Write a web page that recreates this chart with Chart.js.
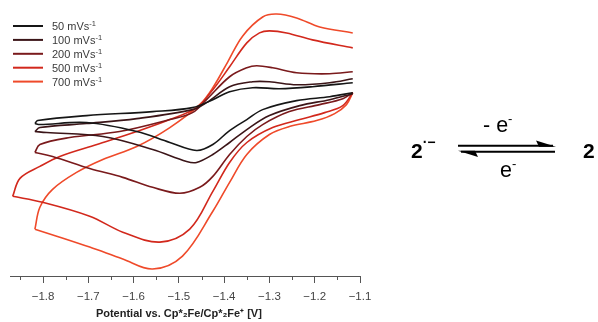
<!DOCTYPE html>
<html>
<head>
<meta charset="utf-8">
<script src="https://cdn.jsdelivr.net/npm/chart.js@4.4.1/dist/chart.umd.min.js"></script>
<style>
  html, body { margin: 0; padding: 0; background: #fff; }
  #wrap { position: relative; width: 598px; height: 322px; overflow: hidden; }
  #cv { position: absolute; left: 0; top: 0; }
  #overlay { position: absolute; left: 0; top: 0; font-family: "Liberation Sans", Arial, sans-serif; }
</style>
</head>
<body>
<div id="wrap">
  <canvas id="cv" width="380" height="322"></canvas>
  <svg id="overlay" width="598" height="322" xmlns="http://www.w3.org/2000/svg">
    <g id="legend"></g>
    <!-- reaction scheme -->
    <g fill="#000">
      <text x="411" y="158" font-size="21" font-weight="bold">2<tspan font-size="14" dy="-11">·−</tspan></text>
      <text x="583" y="158" font-size="21" font-weight="bold">2</text>
      <text x="483" y="132" font-size="21.5">- e<tspan font-size="13" dy="-9">-</tspan></text>
      <text x="500" y="177" font-size="21.5">e<tspan font-size="13" dy="-9">-</tspan></text>
      <line x1="458" y1="145.7" x2="553" y2="145.7" stroke="#000" stroke-width="2"/>
      <polygon points="556,146.7 536,140.5 539,146.7"/>
      <line x1="461" y1="151.7" x2="555" y2="151.7" stroke="#000" stroke-width="2"/>
      <polygon points="458,150.7 478,157 475,150.7"/>
    </g>
  </svg>
</div>
<script>
// scan rates and axis ticks
const scanRates = ["50", "100", "200", "500", "700"];
const majorTicks = [-1.8, -1.7, -1.6, -1.5, -1.4, -1.3, -1.2, -1.1];
const minorTicks = [-1.85, -1.75, -1.65, -1.55, -1.45, -1.35, -1.25, -1.15];

// [potential V, current (arb.)] - return sweep from right end to left vertex
const upper50 = [[-1.116, 6.7], [-1.205, 6.3], [-1.278, 6.1], [-1.337, 6.2], [-1.388, 5.8], [-1.425, 5.0],
  [-1.470, 4.2], [-1.558, 3.8], [-1.704, 3.4], [-1.812, 2.9], [-1.818, 2.6]];
const lower50 = [[-1.818, 2.6], [-1.807, 2.5], [-1.704, 2.7], [-1.593, 1.8], [-1.520, 0.7], [-1.461, -0.1],
  [-1.425, 0.5], [-1.388, 1.9], [-1.350, 3.0], [-1.315, 4.0], [-1.240, 4.9], [-1.167, 5.3], [-1.116, 5.7]];

const upper100 = [[-1.116, 7.1], [-1.167, 6.7], [-1.240, 6.5], [-1.300, 6.8], [-1.337, 6.8], [-1.388, 6.3],
  [-1.439, 4.7], [-1.470, 4.0], [-1.593, 3.1], [-1.704, 2.6], [-1.807, 2.2], [-1.818, 1.8]];
const lower100 = [[-1.818, 1.8], [-1.792, 1.7], [-1.668, 1.3], [-1.558, 0.0], [-1.483, -1.2], [-1.461, -1.3],
  [-1.425, -0.5], [-1.388, 0.7], [-1.350, 2.0], [-1.300, 3.4], [-1.233, 4.4], [-1.167, 5.0], [-1.116, 5.6]];

const upper200 = [[-1.116, 7.8], [-1.167, 7.6], [-1.240, 7.7], [-1.293, 8.2], [-1.328, 8.4], [-1.350, 8.2],
  [-1.388, 7.3], [-1.439, 5.0], [-1.470, 3.7], [-1.520, 3.0], [-1.631, 1.8], [-1.741, 1.2], [-1.807, 0.5], [-1.818, -0.3]];
const lower200 = [[-1.818, -0.3], [-1.779, -0.7], [-1.697, -1.9], [-1.624, -2.8], [-1.558, -3.8], [-1.498, -4.4],
  [-1.454, -3.8], [-1.425, -2.7], [-1.388, -0.5], [-1.350, 1.3], [-1.315, 2.5], [-1.256, 3.8], [-1.189, 4.5],
  [-1.138, 5.1], [-1.116, 5.7]];

const upper500 = [[-1.116, 10.2], [-1.205, 11.0], [-1.262, 11.7], [-1.300, 11.9], [-1.322, 11.7], [-1.350, 10.7],
  [-1.388, 8.3], [-1.425, 6.0], [-1.461, 4.2], [-1.520, 3.0], [-1.593, 1.8], [-1.681, 0.5], [-1.763, -0.7],
  [-1.807, -1.7], [-1.851, -2.9], [-1.867, -4.7]];
const lower500 = [[-1.867, -4.7], [-1.801, -5.3], [-1.697, -6.7], [-1.624, -8.3], [-1.542, -9.3], [-1.476, -8.0],
  [-1.425, -4.2], [-1.388, -1.3], [-1.350, 0.7], [-1.293, 2.2], [-1.233, 3.0], [-1.178, 3.7], [-1.138, 4.4], [-1.116, 5.7]];

const upper700 = [[-1.116, 11.7], [-1.189, 12.3], [-1.240, 13.2], [-1.284, 13.6], [-1.315, 13.3], [-1.359, 11.4],
  [-1.392, 8.8], [-1.425, 6.2], [-1.454, 4.5], [-1.520, 2.2], [-1.593, 0.3], [-1.668, -1.0], [-1.726, -2.3],
  [-1.779, -4.0], [-1.807, -5.8], [-1.818, -8.0]];
const lower700 = [[-1.818, -8.0], [-1.763, -8.8], [-1.697, -9.8], [-1.624, -11.0], [-1.558, -12.0], [-1.492, -10.7],
  [-1.425, -6.2], [-1.388, -3.3], [-1.350, -0.5], [-1.300, 1.5], [-1.256, 2.3], [-1.196, 2.9], [-1.156, 3.6],
  [-1.130, 4.5], [-1.116, 5.7]];

const branches = [[upper50, lower50], [upper100, lower100], [upper200, lower200], [upper500, lower500], [upper700, lower700]];
const lineColors = ["#161616", "#3b1518", "#7a1a1c", "#d2281c", "#ef4a2a"];

const font = "'Liberation Sans', Arial, sans-serif";

// build datasets, two branches per scan rate so the vertex stays sharp
const datasets = [];
branches.forEach((pair, i) => {
  pair.forEach((pts) => {
    datasets.push({
      label: scanRates[i] + " mVs-1",
      data: pts.map((p) => ({ x: p[0], y: p[1] })),
      showLine: true,
      borderColor: lineColors[i],
      borderWidth: 1.6,
      pointRadius: 0,
      tension: 0.35,
      fill: false,
    });
  });
});

// minor ticks under the axis
const minorTickPlugin = {
  id: "minorTickPlugin",
  afterDraw(chart) {
    const xs = chart.scales.x;
    const ctx = chart.ctx;
    ctx.save();
    ctx.strokeStyle = "#555";
    ctx.lineWidth = 1;
    minorTicks.forEach((v) => {
      const px = Math.round(xs.getPixelForValue(v)) + 0.5;
      ctx.beginPath();
      ctx.moveTo(px, xs.top);
      ctx.lineTo(px, xs.top + 4);
      ctx.stroke();
    });
    ctx.restore();
  },
};

new Chart(document.getElementById("cv"), {
  type: "scatter",
  data: { datasets: datasets },
  options: {
    responsive: false,
    animation: false,
    layout: { padding: { left: 10, right: 20, top: 10, bottom: 0 } },
    plugins: { legend: { display: false }, tooltip: { enabled: false } },
    scales: {
      x: {
        type: "linear",
        min: -1.873,
        max: -1.1,
        afterBuildTicks: (scale) => {
          scale.ticks = majorTicks.map((v) => ({ value: v }));
        },
        ticks: {
          callback: (v) => v.toFixed(1).replace("-", "\u2212"),
          font: { family: font, size: 11.5 },
          color: "#444",
          padding: 7,
          maxRotation: 0,
          autoSkip: false,
        },
        grid: { drawOnChartArea: false, drawTicks: true, tickLength: 7, color: "#555" },
        border: { display: true, color: "#555", width: 1 },
        title: {
          display: true,
          text: "Potential vs. Cp*\u2082Fe/Cp*\u2082Fe\u207A [V]    ",
          font: { family: font, size: 11, weight: "bold" },
          color: "#222",
          padding: { top: -3, bottom: 1 },
        },
      },
      y: { display: false, min: -12.7, max: 14.0 },
    },
  },
  plugins: [minorTickPlugin],
});

// legend drawn from the same arrays
const NS = "http://www.w3.org/2000/svg";
const legend = document.getElementById("legend");
scanRates.forEach((rate, i) => {
  const y = 26 + i * 13.9;
  const ln = document.createElementNS(NS, "line");
  ln.setAttribute("x1", 13); ln.setAttribute("x2", 43);
  ln.setAttribute("y1", y); ln.setAttribute("y2", y);
  ln.setAttribute("stroke", lineColors[i]);
  ln.setAttribute("stroke-width", 2);
  legend.appendChild(ln);
  const t = document.createElementNS(NS, "text");
  t.setAttribute("x", 52); t.setAttribute("y", y + 4);
  t.setAttribute("font-size", 11);
  t.setAttribute("fill", "#3a3a3a");
  t.textContent = rate + " mVs";
  const sup = document.createElementNS(NS, "tspan");
  sup.setAttribute("font-size", 7.5);
  sup.setAttribute("dy", -4);
  sup.textContent = "-1";
  t.appendChild(sup);
  legend.appendChild(t);
});
</script>
</body>
</html>
